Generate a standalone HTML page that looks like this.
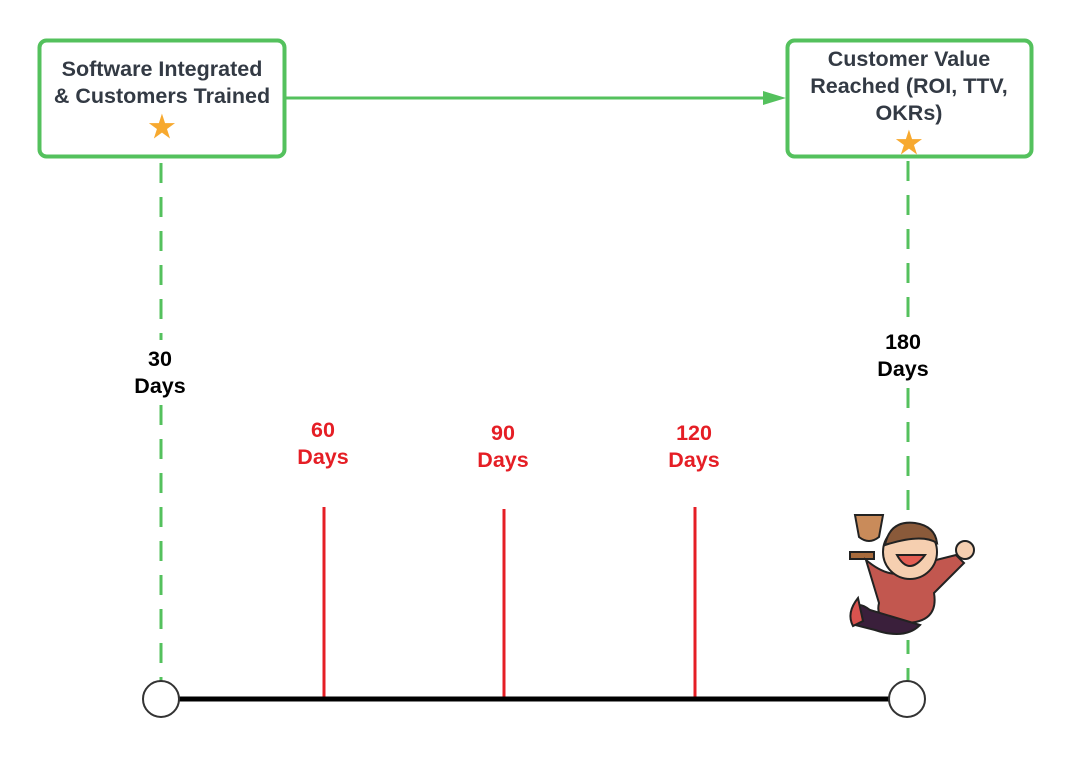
<!DOCTYPE html>
<html><head><meta charset="utf-8"><style>
html,body{margin:0;padding:0;background:#fff;width:1072px;height:760px;overflow:hidden}
svg{display:block}
text{font-family:"Liberation Sans",Arial,sans-serif;font-weight:bold}
</style></head><body>
<svg width="1072" height="760" viewBox="0 0 1072 760">
<!-- boxes -->
<rect x="39.5" y="40.5" width="245" height="116" rx="7" fill="#fff" stroke="#54c15d" stroke-width="4"/>
<rect x="787.5" y="40.5" width="244" height="116" rx="7" fill="#fff" stroke="#54c15d" stroke-width="4"/>
<text x="162" y="76" font-size="21.5" fill="#333a44" text-anchor="middle">Software Integrated</text>
<text x="162" y="103" font-size="21.5" fill="#333a44" text-anchor="middle">&amp; Customers Trained</text>
<text x="162" y="137" font-size="30" fill="#f7a92f" text-anchor="middle">★</text>
<text x="909" y="66" font-size="21.5" fill="#333a44" text-anchor="middle">Customer Value</text>
<text x="909" y="93" font-size="21.5" fill="#333a44" text-anchor="middle">Reached (ROI, TTV,</text>
<text x="909" y="120" font-size="21.5" fill="#333a44" text-anchor="middle">OKRs)</text>
<text x="909" y="153" font-size="30" fill="#f7a92f" text-anchor="middle">★</text>
<!-- connector -->
<line x1="286" y1="98" x2="765" y2="98" stroke="#54c15d" stroke-width="3"/>
<path d="M763,91 L786,98 L763,105 z" fill="#54c15d"/>
<!-- dashed -->
<line x1="161" y1="163" x2="161" y2="340" stroke="#54c15d" stroke-width="3" stroke-dasharray="20,14"/>
<line x1="161" y1="405" x2="161" y2="682" stroke="#54c15d" stroke-width="3" stroke-dasharray="20,14"/>
<line x1="908" y1="161" x2="908" y2="320" stroke="#54c15d" stroke-width="3" stroke-dasharray="20,14"/>
<line x1="908" y1="388" x2="908" y2="515" stroke="#54c15d" stroke-width="3" stroke-dasharray="20,14"/>
<line x1="908" y1="640" x2="908" y2="682" stroke="#54c15d" stroke-width="3" stroke-dasharray="14,14"/>
<!-- labels -->
<rect x="125" y="342" width="72" height="60" fill="#fff"/>
<text x="160" y="366" font-size="21.5" fill="#000" text-anchor="middle">30</text>
<text x="160" y="393" font-size="21.5" fill="#000" text-anchor="middle">Days</text>
<text x="903" y="349" font-size="21.5" fill="#000" text-anchor="middle">180</text>
<text x="903" y="376" font-size="21.5" fill="#000" text-anchor="middle">Days</text>
<text x="323" y="437" font-size="21.5" fill="#e51e25" text-anchor="middle">60</text>
<text x="323" y="464" font-size="21.5" fill="#e51e25" text-anchor="middle">Days</text>
<text x="503" y="440" font-size="21.5" fill="#e51e25" text-anchor="middle">90</text>
<text x="503" y="467" font-size="21.5" fill="#e51e25" text-anchor="middle">Days</text>
<text x="694" y="440" font-size="21.5" fill="#e51e25" text-anchor="middle">120</text>
<text x="694" y="467" font-size="21.5" fill="#e51e25" text-anchor="middle">Days</text>
<!-- red ticks -->
<line x1="324" y1="507" x2="324" y2="700" stroke="#e51e25" stroke-width="3"/>
<line x1="504" y1="509" x2="504" y2="700" stroke="#e51e25" stroke-width="3"/>
<line x1="695" y1="507" x2="695" y2="700" stroke="#e51e25" stroke-width="3"/>
<!-- timeline -->
<line x1="178" y1="699" x2="890" y2="699" stroke="#000" stroke-width="5"/>
<circle cx="161" cy="699" r="18" fill="#fff" stroke="#333" stroke-width="2"/>
<circle cx="907" cy="699" r="18" fill="#fff" stroke="#333" stroke-width="2"/>
<!-- kid -->
<g stroke="#222" stroke-width="2">
<path d="M855,515 h28 l-4,22 q-10,8 -20,0 z" fill="#c98b5a"/>
<rect x="850" y="552" width="24" height="7" fill="#a86b3c"/>
<path d="M866,560 q30,25 50,5 l40,-10 l8,8 l-30,30 q5,30 -30,30 q-30,0 -25,-20 z" fill="#c2574f"/>
<path d="M870,610 q-20,-15 -15,15 l20,5 q30,10 45,-5 z" fill="#3a1f3b"/>
<path d="M858,598 q-12,15 -5,28 l10,-5 z" fill="#d9534f"/>
<circle cx="910" cy="552" r="27" fill="#f6cfb0"/>
<path d="M885,545 q5,-25 30,-22 q20,3 22,20 q-15,-10 -52,2 z" fill="#8a5a3a"/>
<path d="M897,555 q12,22 28,0 z" fill="#e35d52"/>
<circle cx="965" cy="550" r="9" fill="#f6cfb0"/>
</g>
</svg>
</body></html>
